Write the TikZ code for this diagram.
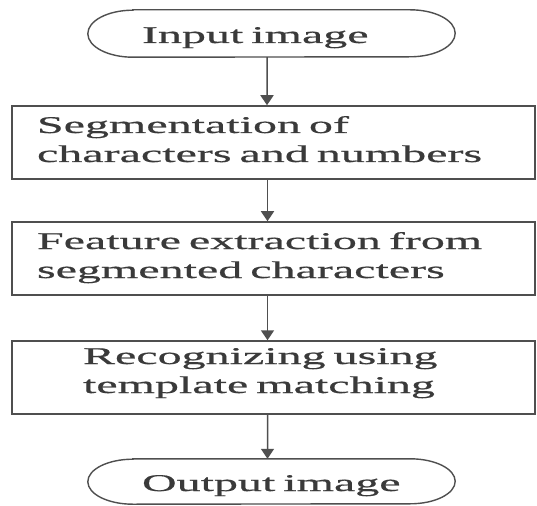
\documentclass[tikz,border=0pt]{standalone}
\usepackage{fontspec}
\setmainfont{Liberation Serif}[FakeStretch=2.0,FakeBold=0.7]
\usetikzlibrary{arrows.meta}
\definecolor{ink}{HTML}{3A3A3A}
\definecolor{edge}{HTML}{4F4F4F}
\begin{document}
\begin{tikzpicture}[x=1bp,y=-1bp,
  lbl/.style={font=\fontsize{24bp}{29bp}\selectfont, text=ink, inner sep=0pt, align=left},
  boxnode/.style={lbl, draw=edge, line width=1.5bp, minimum width=523bp, minimum height=73bp,
                  text width=473bp, text height=16bp, text depth=35bp},
  stadnode/.style={lbl, minimum width=367bp, text width=259bp, text height=19bp, text depth=0bp},
  outline/.style={draw=edge, line width=1.4bp},
  arr/.style={draw=edge, line width=1.5bp, -{Triangle[width=13bp,length=10bp]}}
]
\fill[white] (0,0) rectangle (537,506);
\useasboundingbox (0,0) rectangle (537,506);

\node[stadnode, minimum height=47bp] (s0) at (271.5,33.5) {Input image};
\node[boxnode] (b1) at (273.5,142.5) {Segmentation of\\characters and numbers};
\node[boxnode] (b2) at (273.5,258.5) {Feature extraction from\\segmented characters};
\node[boxnode, text depth=40bp, text height=13bp] (b3) at (273.5,377.5) {\hspace*{46bp}Recognizing using\\\hspace*{46bp}template matching};
\node[stadnode, minimum height=45bp] (s1) at (271.5,481.5) {Output image};

\draw[outline] ([xshift=45bp]s0.north west) -- ([xshift=-45bp]s0.north east)
  arc[start angle=90,end angle=-90,x radius=45bp,y radius=23.5bp]
  -- ([xshift=45bp]s0.south west)
  arc[start angle=270,end angle=90,x radius=45bp,y radius=23.5bp] -- cycle;
\draw[outline] ([xshift=45bp]s1.north west) -- ([xshift=-45bp]s1.north east)
  arc[start angle=90,end angle=-90,x radius=45bp,y radius=22.5bp]
  -- ([xshift=45bp]s1.south west)
  arc[start angle=270,end angle=90,x radius=45bp,y radius=22.5bp] -- cycle;

\draw[arr] ([xshift=-4.5bp]s0.south) -- ([xshift=-6.5bp]b1.north);
\draw[arr] ([xshift=-6bp]b1.south) -- ([xshift=-6bp]b2.north);
\draw[arr] ([xshift=-6bp]b2.south) -- ([xshift=-6bp]b3.north);
\draw[arr] ([xshift=-6bp]b3.south) -- ([xshift=-4bp]s1.north);
\end{tikzpicture}
\end{document}
